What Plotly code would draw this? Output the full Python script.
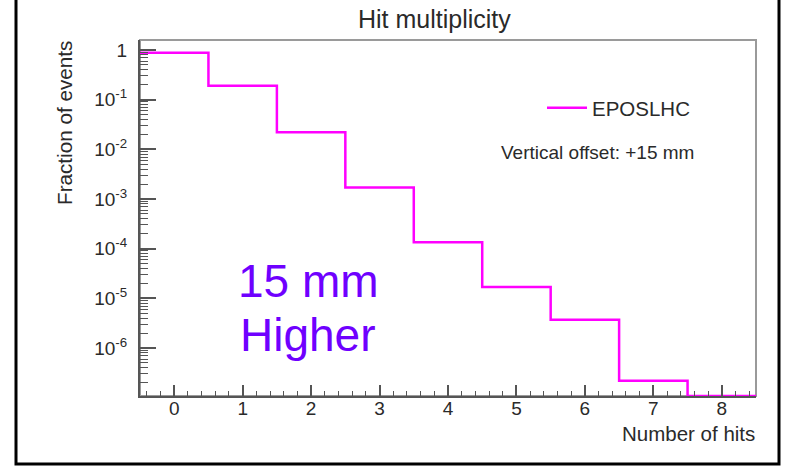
import plotly.graph_objects as go

# ---- data ----
hits = [0, 1, 2, 3, 4, 5, 6, 7, 8]
fraction = [0.88, 0.19, 0.022, 0.0017, 1.35e-4, 1.7e-5, 3.7e-6, 2.2e-7, 0.0]
y_tick_vals = [1e-6, 1e-5, 1e-4, 1e-3, 1e-2, 1e-1, 1]
y_tick_text = ["10<sup>-6</sup>", "10<sup>-5</sup>", "10<sup>-4</sup>", "10<sup>-3</sup>",
               "10<sup>-2</sup>", "10<sup>-1</sup>", "1"]
series_name = "EPOSLHC"
title_text = "Hit multiplicity"
x_title = "Number of hits"
y_title = "Fraction of events"
note_text = "Vertical offset: +15 mm"
big_text_1 = "15 mm"
big_text_2 = "Higher"

# ---- layout constants ----
W, H = 786, 467
ML, MR, MT, MB = 140, 30, 40, 71
PW, PH = W - ML - MR, H - MT - MB
y_range = [-6.966, 0.201]
x_range = [-0.5, 8.5]
FONT = "Liberation Sans, Arial, sans-serif"
TXT = "#2a2a2a"

y_floor = 10 ** y_range[0]
edges = [h - 0.5 for h in hits] + [hits[-1] + 0.5]
ys = [v if v > 0 else y_floor for v in fraction]
ys = ys + [ys[-1]]

def px_x(px):
    return (px - ML) / PW

def px_y(py):
    return (H - MB - py) / PH

fig = go.Figure()
fig.add_trace(go.Scatter(
    x=edges, y=ys, mode="lines", line_shape="hv",
    line=dict(color="#ff00ff", width=2.5), name=series_name, showlegend=True,
    cliponaxis=True,
))

minor_y = [k * 10 ** n for n in range(-7, 1) for k in range(2, 10)]
minor_x = [round(-0.4 + 0.2 * i, 1) for i in range(45)]
minor_x = [v for v in minor_x if v <= 8.5 and abs(v - round(v)) > 1e-6]

fig.update_layout(
    width=W, height=H,
    margin=dict(l=ML, r=MR, t=MT, b=MB),
    paper_bgcolor="white", plot_bgcolor="white",
    font=dict(family=FONT, color=TXT, size=19),
    showlegend=True,
    legend=dict(x=px_x(542), y=px_y(88), xanchor="left", yanchor="top",
                bgcolor="rgba(0,0,0,0)", font=dict(size=20.5, color=TXT),
                itemwidth=40),
    xaxis=dict(range=x_range, showgrid=False, zeroline=False,
               showline=True, linecolor="#555", linewidth=2,
               ticks="inside", ticklen=11, tickwidth=1.5, tickcolor="#555",
               tickmode="array", tickvals=hits, ticktext=[str(h) for h in hits],
               tickfont=dict(size=19, color=TXT), ticklabelstandoff=-6,
               minor=dict(ticks="inside", ticklen=5, tickwidth=1.2, tickcolor="#555",
                          tickmode="array", tickvals=minor_x, showgrid=False)),
    yaxis=dict(type="log", range=y_range, showgrid=False, zeroline=False,
               showline=True, linecolor="#555", linewidth=2,
               ticks="inside", ticklen=16, tickwidth=1.5, tickcolor="#555",
               tickmode="array", tickvals=y_tick_vals, ticktext=y_tick_text,
               tickfont=dict(size=19, color=TXT), ticklabelstandoff=7,
               minor=dict(ticks="inside", ticklen=8, tickwidth=1.2, tickcolor="#555",
                          tickmode="array", tickvals=minor_y, showgrid=False)),
    shapes=[
        # frame box (top/right gray)
        dict(type="rect", xref="paper", yref="paper", x0=0, y0=0, x1=1, y1=1,
             line=dict(color="#9a9a9a", width=2), layer="below"),
        # outer black border
        dict(type="rect", xref="paper", yref="paper",
             x0=px_x(16), x1=px_x(779), y0=px_y(464), y1=px_y(-3),
             line=dict(color="black", width=3)),
    ],
    annotations=[
        dict(text=title_text, xref="paper", yref="paper", x=px_x(434), y=px_y(19),
             xanchor="center", yanchor="middle", showarrow=False,
             font=dict(size=25, color=TXT)),
        dict(text=x_title, xref="paper", yref="paper", x=px_x(757), y=px_y(433),
             xanchor="right", yanchor="middle", showarrow=False,
             font=dict(size=20.5, color=TXT)),
        dict(text=y_title, xref="paper", yref="paper", x=px_x(65), y=px_y(39),
             xanchor="center", yanchor="top", textangle=-90, showarrow=False,
             font=dict(size=20.7, color=TXT)),
        dict(text=note_text, xref="paper", yref="paper", x=px_x(597), y=px_y(152),
             xanchor="center", yanchor="middle", showarrow=False,
             font=dict(size=19, color=TXT)),
        dict(text=big_text_1, xref="paper", yref="paper", x=px_x(308), y=px_y(281),
             xanchor="center", yanchor="middle", showarrow=False,
             font=dict(size=46, color="#6f00ff")),
        dict(text=big_text_2, xref="paper", yref="paper", x=px_x(308), y=px_y(335),
             xanchor="center", yanchor="middle", showarrow=False,
             font=dict(size=46, color="#6f00ff")),
    ],
)

fig.write_html("out.html")
